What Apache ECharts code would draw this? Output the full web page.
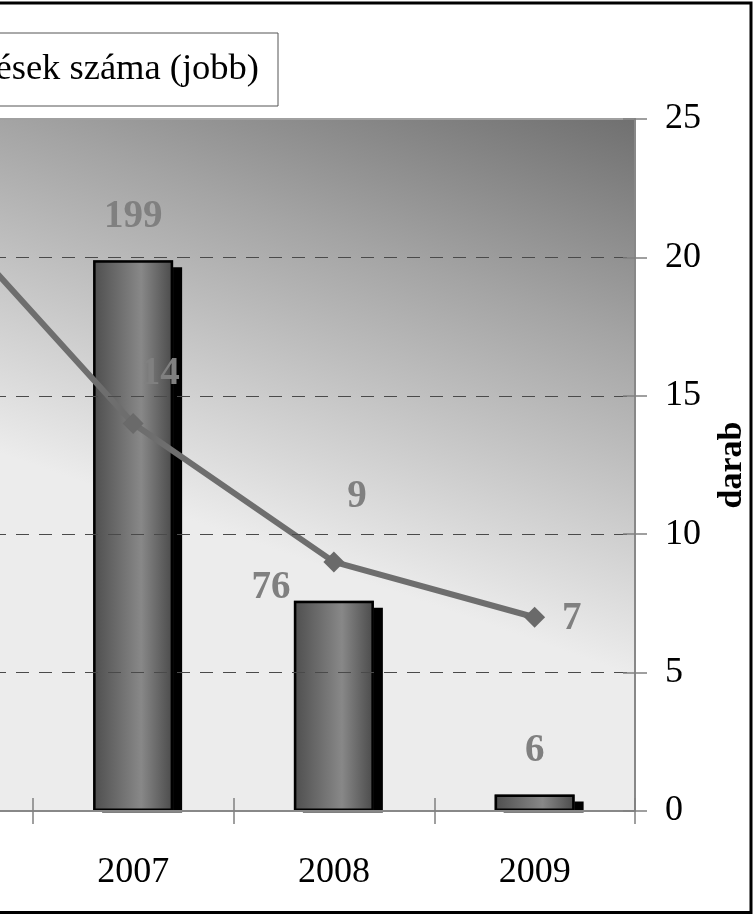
<!DOCTYPE html>
<html><head><meta charset="utf-8">
<script src="https://cdn.jsdelivr.net/npm/echarts@6/dist/echarts.min.js"></script>
<style>
html,body{margin:0;padding:0;width:756px;height:918px;overflow:hidden;background:#fff;position:relative;}
#chart{position:absolute;left:-300px;top:0;width:1056px;height:918px;}
</style></head><body>
<div id="chart"></div>
<script>
const categories = ['2006', '2007', '2008', '2009'];
const barName = 'Kiszabott bírságok (bal)';
const lineName = 'Ellenőrzések száma (jobb)';
const barValues = [212, 199, 76, 6];
const lineValues = [22, 14, 9, 7];
const leftTicks = [0, 50, 100, 150, 200, 250];
const rightTicks = [0, 5, 10, 15, 20, 25];
const rightAxisName = 'darab';

// label placement (style only)
const barLabelOffsets = [[0, 0], [0, 0], [-63, 31], [0, 0]];
const lineLabelOffsets = [[25, -50], [27, -50], [23, -65], [37, 2]];

const FONT = 'Liberation Serif';
const chart = echarts.init(document.getElementById('chart'), null, {renderer: 'canvas'});

const barData = barValues.map((v, i) => ({value: v, label: {offset: barLabelOffsets[i]}}));
const lineData = lineValues.map((v, i) => ({value: v, label: {offset: lineLabelOffsets[i]}}));

const tickStep = a => a[1] - a[0];

chart.setOption({
  animation: false,
  backgroundColor: '#fff',
  grid: {
    left: 132, right: 121, top: 119, bottom: 107,
    outerBoundsMode: 'none',
    show: true,
    borderColor: '#a0a0a0', borderWidth: 2,
    backgroundColor: {
      type: 'linear', x: 935, y: 119, x2: 761, y2: 615, global: true,
      colorStops: [
        {offset: 0, color: '#707070'},
        {offset: 0.4, color: '#a4a4a4'},
        {offset: 1, color: '#ececec'}
      ]
    }
  },
  legend: {
    data: [lineName],
    right: 478, top: 33,
    padding: [18, 19, 18, 19],
    itemGap: 40, itemWidth: 50, itemHeight: 20,
    borderColor: '#555', borderWidth: 1,
    selectedMode: false,
    textStyle: {fontFamily: FONT, fontSize: 36.5, lineHeight: 37, color: '#000'}
  },
  xAxis: [{
    type: 'category', data: categories, position: 'bottom', z: 10,
    boundaryGap: true,
    axisLine: {show: true, lineStyle: {color: '#888', width: 2}},
    axisTick: {show: true, inside: false, length: 13, alignWithLabel: false, lineStyle: {color: '#808080', width: 1.5}},
    axisLabel: {color: '#000', fontFamily: FONT, fontSize: 36, margin: 44},
    splitLine: {show: false}
  }, {
    type: 'category', data: categories, position: 'bottom', z: 10,
    boundaryGap: true,
    axisLine: {show: false},
    axisTick: {show: true, inside: true, length: 13, alignWithLabel: false, lineStyle: {color: '#808080', width: 1.5}},
    axisLabel: {show: false},
    splitLine: {show: false}
  }],
  yAxis: [{
    type: 'value', position: 'left',
    min: leftTicks[0], max: leftTicks[leftTicks.length - 1], interval: tickStep(leftTicks),
    axisLine: {show: true, lineStyle: {color: '#808080'}},
    axisTick: {show: true, length: 12, lineStyle: {color: '#808080'}},
    axisLabel: {color: '#000', fontFamily: FONT, fontSize: 36, margin: 30},
    splitLine: {show: false}
  }, {
    type: 'value', position: 'right', z: 10,
    min: rightTicks[0], max: rightTicks[rightTicks.length - 1], interval: tickStep(rightTicks),
    name: rightAxisName, nameLocation: 'middle', nameRotate: 90, nameGap: 80,
    nameTextStyle: {color: '#000', fontFamily: FONT, fontSize: 34, fontWeight: 'bold'},
    axisLine: {show: true, lineStyle: {color: '#808080', width: 1.5}},
    axisTick: {show: true, inside: false, length: 12, lineStyle: {color: '#808080', width: 1.5}},
    axisLabel: {color: '#000', fontFamily: FONT, fontSize: 36, margin: 30},
    splitLine: {show: true, showMinLine: false, showMaxLine: false,
      lineStyle: {color: '#4a4a4a', width: 1, type: [13, 10]}}
  }, {
    type: 'value', position: 'right', z: 10,
    min: rightTicks[0], max: rightTicks[rightTicks.length - 1], interval: tickStep(rightTicks),
    axisLine: {show: false},
    axisTick: {show: true, inside: true, length: 12, lineStyle: {color: '#808080', width: 1.5}},
    axisLabel: {show: false},
    splitLine: {show: false}
  }],
  series: [{
    name: barName, type: 'bar', xAxisIndex: 0, yAxisIndex: 0,
    data: barValues, barWidth: 80, barGap: '-100%',
    itemStyle: {
      color: {type: 'linear', x: 0, y: 0, x2: 1, y2: 0, colorStops: [
        {offset: 0, color: '#4e4e4e'}, {offset: 0.6, color: '#888888'}, {offset: 1, color: '#4a4a4a'}
      ]},
      borderWidth: 0,
      shadowColor: '#000', shadowBlur: 0, shadowOffsetX: 9, shadowOffsetY: 7
    },
    label: {show: false}
  }, {
    name: barName + ' ', type: 'bar', xAxisIndex: 0, yAxisIndex: 0,
    data: barData, barWidth: 80, barGap: '-100%',
    itemStyle: {color: 'rgba(0,0,0,0)', borderColor: '#000', borderWidth: 2.5},
    label: {show: true, position: 'top', distance: 24, color: '#808080',
      fontFamily: FONT, fontSize: 39, fontWeight: 'bold'}
  }, {
    name: lineName, type: 'line', xAxisIndex: 0, yAxisIndex: 1,
    data: lineData,
    symbol: 'diamond', symbolSize: 21,
    lineStyle: {color: '#6e6e6e', width: 6},
    itemStyle: {color: '#6a6a6a'},
    label: {show: true, position: 'inside', color: '#808080',
      fontFamily: FONT, fontSize: 39, fontWeight: 'bold'}
  }],
  graphic: [{
    type: 'rect', z: 3, silent: true,
    shape: {x: 100, y: 812.5, width: 850, height: 10},
    style: {fill: '#fff'}
  }, {
    type: 'rect', z: 100, silent: true,
    shape: {x: 10, y: 3, width: 1041, height: 909.5},
    style: {fill: 'none', stroke: '#000', lineWidth: 3}
  }]
});
</script>
</body></html>
